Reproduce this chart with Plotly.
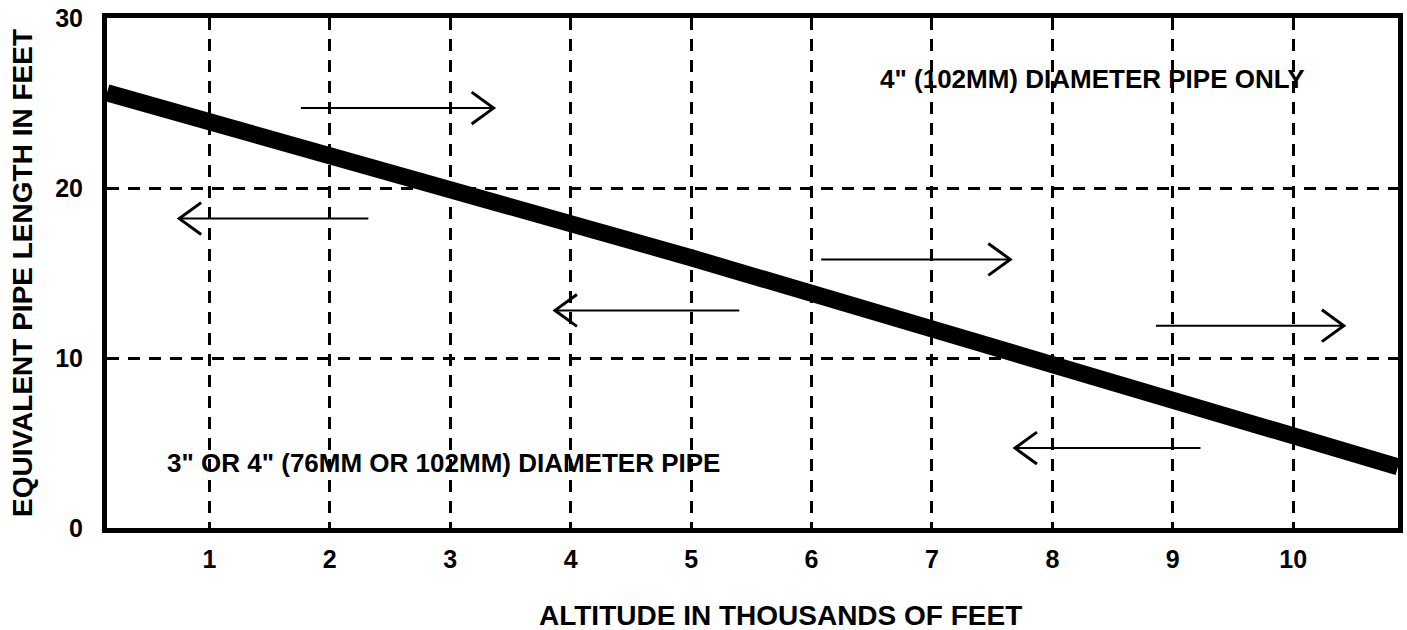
import plotly.graph_objects as go

# Data
altitude = [0.15, 5, 10.87]          # thousands of feet
pipe_length = [25.6, 15.9, 3.6]      # feet

x_ticks = [1, 2, 3, 4, 5, 6, 7, 8, 9, 10]
y_ticks = [0, 10, 20, 30]

# arrows: (tail_x, head_x, y)
arrow_tail_x = [1.76, 2.32, 5.40, 6.08, 8.86, 9.23]
arrow_head_x = [3.36, 0.75, 3.87, 7.65, 10.42, 7.69]
arrow_y = [24.7, 18.2, 12.8, 15.8, 11.9, 4.7]

label_texts = ['4" (102MM) DIAMETER PIPE ONLY', '3" OR 4" (76MM OR 102MM) DIAMETER PIPE']
label_x = [8.33, 2.94]
label_y = [26.4, 3.8]

x_title = "ALTITUDE IN THOUSANDS OF FEET"
y_title = "EQUIVALENT PIPE LENGTH IN FEET"

FONT = "Liberation Sans, Arial, Helvetica, sans-serif"

X_RANGE = [0.15, 10.87]
Y_RANGE = [0, 30]
L, R, T, B = 107, 4, 16, 102
PLOT_W = 1407 - L - R
PLOT_H = 630 - T - B
px_x = (X_RANGE[1] - X_RANGE[0]) / PLOT_W
px_y = (Y_RANGE[1] - Y_RANGE[0]) / PLOT_H
HEAD_BACK = 22 * px_x
HEAD_HALF = 16 * px_y

fig = go.Figure()
fig.add_trace(go.Scatter(
    x=altitude, y=pipe_length, mode="lines",
    line=dict(color="black", width=17),
    showlegend=False, hoverinfo="skip",
))

shapes = []
for tx, hx, yy in zip(arrow_tail_x, arrow_head_x, arrow_y):
    s = 1 if hx > tx else -1
    shapes.append(dict(type="line", xref="x", yref="y", x0=tx, x1=hx, y0=yy, y1=yy,
                       line=dict(color="black", width=2)))
    bx = hx - s * HEAD_BACK
    shapes.append(dict(type="path", xref="x", yref="y",
                       path=f"M{bx},{yy + HEAD_HALF} L{hx},{yy} L{bx},{yy - HEAD_HALF}",
                       line=dict(color="black", width=3)))

annotations = []
for t, xx, yy in zip(label_texts, label_x, label_y):
    annotations.append(dict(
        x=xx, y=yy, xref="x", yref="y", text=t, showarrow=False,
        font=dict(family=FONT, size=26, color="black", weight="bold"),
        xanchor="center", yanchor="middle",
    ))
# x-axis title (offset to the right of centre, as in the original)
annotations.append(dict(
    x=0.5216, y=-0.172, xref="paper", yref="paper", text=x_title, showarrow=False,
    font=dict(family=FONT, size=28, color="black", weight="bold"),
    xanchor="center", yanchor="middle",
))

fig.update_layout(
    width=1407, height=630,
    margin=dict(l=L, r=R, t=T, b=B),
    paper_bgcolor="white", plot_bgcolor="white",
    annotations=annotations, shapes=shapes,
    font=dict(family=FONT, color="black"),
)
fig.update_xaxes(
    range=X_RANGE, tickvals=x_ticks, ticktext=[str(v) for v in x_ticks],
    showgrid=True, gridcolor="black", gridwidth=2.5, griddash="12px,9px",
    showline=True, linecolor="black", linewidth=5, mirror=True,
    ticks="", ticklabelstandoff=5, zeroline=False,
    tickfont=dict(family=FONT, size=25, color="black", weight="bold"),
)
fig.update_yaxes(
    range=Y_RANGE, tickvals=y_ticks, ticktext=[str(v) for v in y_ticks],
    showgrid=True, gridcolor="black", gridwidth=2.5, griddash="12px,9px",
    showline=True, linecolor="black", linewidth=5, mirror=True,
    ticks="", ticklabelstandoff=14, zeroline=False,
    tickfont=dict(family=FONT, size=25, color="black", weight="bold"),
    title=dict(text=y_title, standoff=16,
               font=dict(family=FONT, size=28, color="black", weight="bold")),
)

fig.write_html("out.html", post_script="document.body.style.margin='0';",
               config={"displayModeBar": False})
